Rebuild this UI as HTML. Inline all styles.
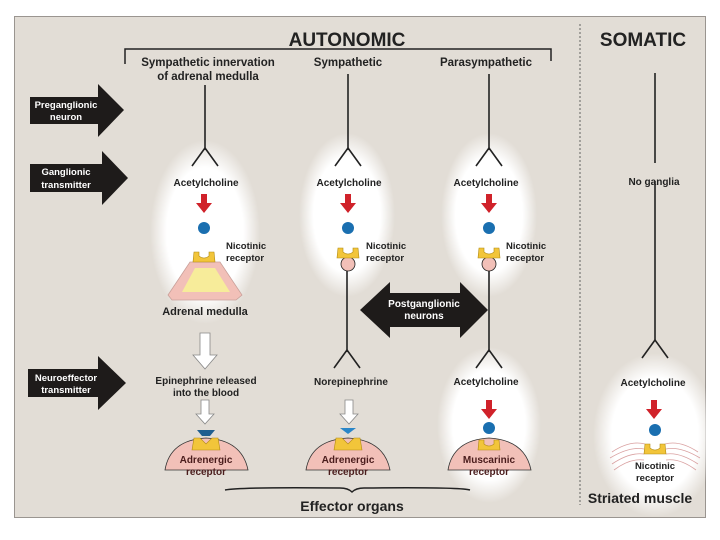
<!DOCTYPE html>
<html><head><meta charset="utf-8"><style>
html,body{margin:0;padding:0;background:#fff;width:720px;height:540px;overflow:hidden}
svg{display:block}
text{font-family:"Liberation Sans",sans-serif;font-weight:bold}
</style></head><body>
<svg width="720" height="540" viewBox="0 0 720 540">
<defs>
<radialGradient id="g"><stop offset="0" stop-color="#fff"/><stop offset="0.7" stop-color="#fff"/><stop offset="1" stop-color="#fff" stop-opacity="0"/></radialGradient>
<g id="red"><polygon points="-3,0 3,0 3,9 8,9 0,19 -8,9 -3,9" fill="#d0222a"/></g>
<g id="wht"><polygon points="-4,0 4,0 4,14 9,14 0,24 -9,14 -4,14" fill="#fff" stroke="#888" stroke-width="0.8"/></g>
<g id="cup"><path d="M-10,0 L-5,0 L-5,4 Q0,8 5,4 L5,0 L10,0 L11,10 L-11,10 Z" fill="#f2c53a" stroke="#b08a10" stroke-width="0.6"/></g>
<g id="fork" stroke="#222" stroke-width="1.6" fill="none"><path d="M0,0 L-13,18 M0,0 L13,18"/></g>
</defs>
<rect x="14.5" y="16.5" width="691" height="501" fill="#e2ddd6" stroke="#9a9590"/>
<!-- glows -->
<ellipse cx="205" cy="232" rx="55" ry="92" fill="url(#g)"/>
<ellipse cx="347" cy="215" rx="48" ry="82" fill="url(#g)"/>
<ellipse cx="489" cy="215" rx="48" ry="82" fill="url(#g)"/>
<ellipse cx="489" cy="425" rx="52" ry="78" fill="url(#g)"/>
<ellipse cx="655" cy="435" rx="62" ry="82" fill="url(#g)"/>
<text x="347" y="46" font-size="19" text-anchor="middle" fill="#222">AUTONOMIC</text>
<text x="643" y="46" font-size="19" text-anchor="middle" fill="#222">SOMATIC</text>
<path d="M125,64 L125,49 L551,49 L551,61" fill="none" stroke="#222" stroke-width="1.5"/>
<line x1="580" y1="24" x2="580" y2="505" stroke="#444" stroke-width="0.8" stroke-dasharray="2,2"/>
<g font-size="11.5" fill="#222" text-anchor="middle">
<text x="208" y="66">Sympathetic innervation</text>
<text x="208" y="80">of adrenal medulla</text>
<text x="348" y="66">Sympathetic</text>
<text x="486" y="66">Parasympathetic</text>
</g>
<!-- left arrows -->
<g fill="#1e1b1a">
<polygon points="30,97 98,97 98,84 124,110 98,137 98,124 30,124"/>
<polygon points="30,164 102,164 102,151 128,178 102,205 102,192 30,192"/>
<polygon points="28,369 98,369 98,356 126,383 98,410 98,397 28,397"/>
</g>
<g font-size="9.5" fill="#fff" text-anchor="middle">
<text x="66" y="108">Preganglionic</text><text x="66" y="120">neuron</text>
<text x="66" y="175">Ganglionic</text><text x="66" y="188">transmitter</text>
<text x="66" y="381">Neuroeffector</text><text x="66" y="393">transmitter</text>
</g>
<!-- preganglionic lines -->
<g stroke="#222" stroke-width="1.6">
<line x1="205" y1="85" x2="205" y2="150"/>
<line x1="348" y1="74" x2="348" y2="150"/>
<line x1="489" y1="74" x2="489" y2="150"/>
<line x1="655" y1="73" x2="655" y2="163"/>
<line x1="655" y1="181" x2="655" y2="340"/>
<line x1="347" y1="270" x2="347" y2="352"/>
<line x1="489" y1="270" x2="489" y2="352"/>
</g>
<use href="#fork" x="205" y="148"/><use href="#fork" x="348" y="148"/><use href="#fork" x="489" y="148"/>
<use href="#fork" x="347" y="350"/><use href="#fork" x="489" y="350"/><use href="#fork" x="655" y="340"/>
<g font-size="10" fill="#222" text-anchor="middle">
<text x="206" y="186">Acetylcholine</text>
<text x="349" y="186">Acetylcholine</text>
<text x="486" y="186">Acetylcholine</text>
<text x="654" y="185">No ganglia</text>
<text x="486" y="385">Acetylcholine</text>
<text x="351" y="385">Norepinephrine</text>
<text x="206" y="384">Epinephrine released</text>
<text x="206" y="396">into the blood</text>
<text x="653" y="386">Acetylcholine</text>
</g>
<use href="#red" x="204" y="194"/><use href="#red" x="348" y="194"/><use href="#red" x="489" y="194"/>
<use href="#red" x="489" y="400"/><use href="#red" x="654" y="400"/>
<g fill="#1a6fb0">
<circle cx="204" cy="228" r="6"/><circle cx="348" cy="228" r="6"/><circle cx="489" cy="228" r="6"/>
<circle cx="489" cy="428" r="6"/><circle cx="655" cy="430" r="6"/>
</g>
<!-- adrenal medulla -->
<path d="M190,262 L220,262 L242,295 L236,300 L172,300 L168,295 Z" fill="#f2c0b8" stroke="#c9a09a" stroke-width="0.8"/>
<path d="M195,268 L215,268 L230,292 L182,292 Z" fill="#f7ec9a"/>
<use href="#cup" x="204" y="252"/>
<!-- col2/3 ganglion receptors -->
<circle cx="348" cy="264" r="7" fill="#f2c0b8" stroke="#222" stroke-width="0.8"/>
<circle cx="489" cy="264" r="7" fill="#f2c0b8" stroke="#222" stroke-width="0.8"/>
<use href="#cup" x="348" y="248"/><use href="#cup" x="489" y="248"/>
<g font-size="9.5" fill="#222">
<text x="226" y="249">Nicotinic</text><text x="226" y="261">receptor</text>
<text x="366" y="249">Nicotinic</text><text x="366" y="261">receptor</text>
<text x="506" y="249">Nicotinic</text><text x="506" y="261">receptor</text>
</g>
<text x="205" y="315" font-size="11" fill="#222" text-anchor="middle">Adrenal medulla</text>
<!-- postganglionic arrow -->
<polygon points="360,310 390,282 390,293 460,293 460,282 488,310 460,338 460,327 390,327 390,338" fill="#1e1b1a"/>
<g font-size="10" fill="#fff" text-anchor="middle"><text x="424" y="307">Postganglionic</text><text x="424" y="319">neurons</text></g>
<!-- white arrows -->
<polygon points="200,333 210,333 210,355 217,355 205,369 193,355 200,355" fill="#fff" stroke="#888" stroke-width="0.8"/>
<use href="#wht" x="205" y="400"/><use href="#wht" x="349" y="400"/>
<!-- effector organs -->
<g fill="#f2c0b8" stroke="#333" stroke-width="0.8">
<path d="M165,470 Q170,440 206,438 Q242,440 248,470 Z"/>
<path d="M306,470 Q311,440 348,438 Q384,440 390,470 Z"/>
<path d="M448,470 Q453,440 489,438 Q525,440 531,470 Z"/>
</g>
<polygon points="197,430 215,430 210,436 202,436" fill="#1f5f8f"/>
<polygon points="340,428 356,428 348,434" fill="#2a86c8"/>
<path d="M194,438 L200,438 L206,444 L212,438 L218,438 L220,450 L192,450 Z" fill="#f2c53a" stroke="#b08a10" stroke-width="0.6"/>
<path d="M336,438 L342,438 L348,444 L354,438 L360,438 L362,450 L334,450 Z" fill="#f2c53a" stroke="#b08a10" stroke-width="0.6"/>
<use href="#cup" x="489" y="440"/>
<g font-size="10" fill="#4a1c1c" text-anchor="middle">
<text x="206" y="463">Adrenergic</text><text x="206" y="475">receptor</text>
<text x="348" y="463">Adrenergic</text><text x="348" y="475">receptor</text>
<text x="489" y="463">Muscarinic</text><text x="489" y="475">receptor</text>
</g>
<path d="M225,490 Q240,487 340,488 Q348,488 352,492 Q356,488 364,488 Q460,487 470,490" fill="none" stroke="#222" stroke-width="1.5"/>
<text x="352" y="511" font-size="14" fill="#222" text-anchor="middle">Effector organs</text>
<!-- somatic receptor -->
<g stroke="#d9a0a0" stroke-width="0.8" fill="none">
<path d="M612,452 Q630,440 645,444 M610,458 Q630,446 644,449 M612,464 Q630,452 644,454 M614,470 Q630,458 644,460"/>
<path d="M698,452 Q680,440 665,444 M700,458 Q680,446 666,449 M698,464 Q680,452 666,454 M696,470 Q680,458 666,460"/>
</g>
<use href="#cup" x="655" y="444"/>
<g font-size="9.5" fill="#222" text-anchor="middle"><text x="655" y="469">Nicotinic</text><text x="655" y="481">receptor</text></g>
<text x="640" y="503" font-size="14" fill="#222" text-anchor="middle">Striated muscle</text>
</svg>
</body></html>
